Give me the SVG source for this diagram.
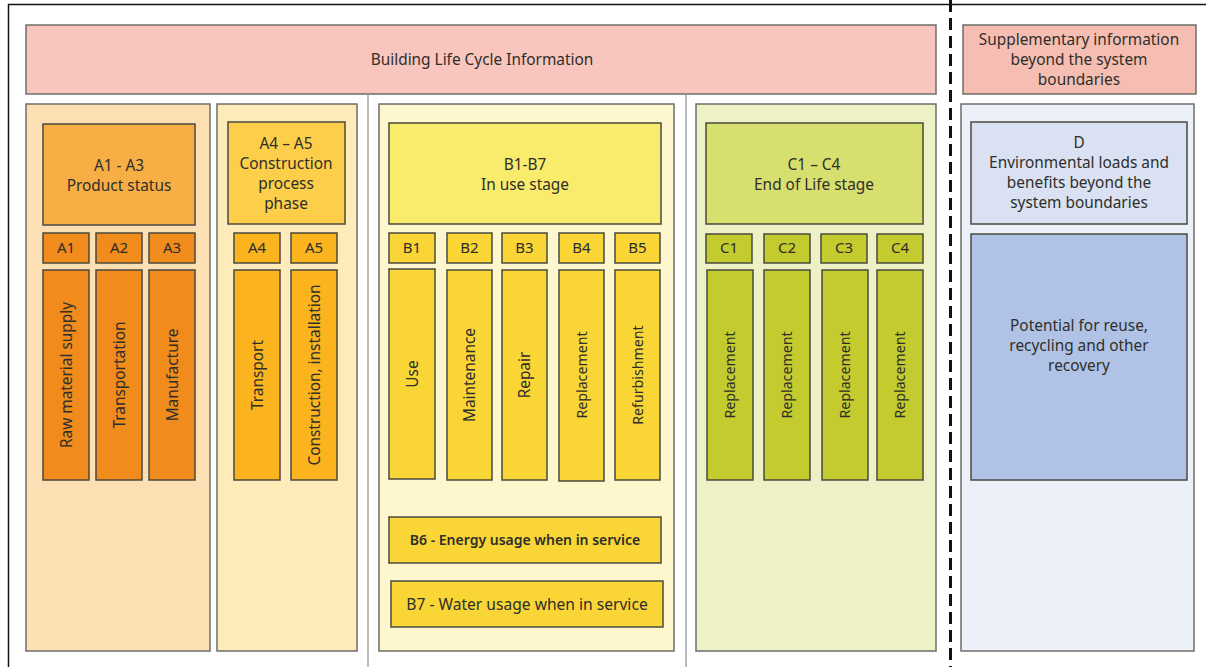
<svg xmlns="http://www.w3.org/2000/svg" width="1206" height="667" viewBox="0 0 1206 667">
<style>
text{font-family:"Noto Sans","Open Sans","Liberation Sans",sans-serif;font-size:15px;fill:#2e2e2a;text-anchor:middle}
.b{stroke:#4a4a40;stroke-width:1.5}
.p{stroke:#6e6e68;stroke-width:1.5}
.t{font-size:15.4px}
.v{font-size:15.4px}
.r{font-size:14.2px}
</style>
<rect x="0" y="0" width="1206" height="667" fill="#fff"/>
<g id="frame">
<path d="M8.5 667 V4.5 H1206" fill="none" stroke="#111" stroke-width="1.5"/>
<line x1="368" y1="95" x2="368" y2="667" stroke="#bdbdbd" stroke-width="2"/>
<line x1="686" y1="95" x2="686" y2="667" stroke="#bdbdbd" stroke-width="2"/>
<line x1="950.5" y1="0" x2="950.5" y2="667" stroke="#111" stroke-width="3" stroke-dasharray="12,6"/>
</g>
<g id="banner">
<rect class="p" x="26" y="25" width="910" height="69" fill="#F8C6BE"/>
<text class="t" x="482" y="65">Building Life Cycle Information</text>
</g>
<g id="supplementary">
<rect class="p" x="963" y="25" width="233" height="69" fill="#F6BEB2"/>
<text class="t" x="1079" y="45">Supplementary information</text>
<text class="t" x="1079" y="65">beyond the system</text>
<text class="t" x="1079" y="85">boundaries</text>
</g>
<g id="panelA13">
<rect class="p" x="26" y="104" width="184" height="547" fill="#FDDFB4"/>
<rect class="b" x="43" y="124" width="152" height="101" fill="#F7AE45"/>
<text class="t" x="119" y="171">A1 - A3</text>
<text class="t" x="119" y="191">Product status</text>
</g>
<g id="A1">
<rect class="b" x="43" y="233" width="46" height="30" fill="#F18B1C"/>
<text x="66" y="253">A1</text>
<rect class="b" x="43" y="270" width="46" height="210" fill="#F18B1C"/>
<text class="v" transform="translate(71.5,375) rotate(-90)">Raw material supply</text>
</g>
<g id="A2">
<rect class="b" x="96" y="233" width="46" height="30" fill="#F18B1C"/>
<text x="119" y="253">A2</text>
<rect class="b" x="96" y="270" width="46" height="210" fill="#F18B1C"/>
<text class="v" transform="translate(124.5,375) rotate(-90)">Transportation</text>
</g>
<g id="A3">
<rect class="b" x="149" y="233" width="46" height="30" fill="#F18B1C"/>
<text x="172" y="253">A3</text>
<rect class="b" x="149" y="270" width="46" height="210" fill="#F18B1C"/>
<text class="v" transform="translate(177.5,375) rotate(-90)">Manufacture</text>
</g>
<g id="panelA45">
<rect class="p" x="217" y="104" width="140" height="547" fill="#FDEBB9"/>
<rect class="b" x="228" y="122" width="117" height="102" fill="#FCCE4A"/>
<text class="t" x="286" y="149">A4 – A5</text>
<text class="t" x="286" y="169">Construction</text>
<text class="t" x="286" y="189">process</text>
<text class="t" x="286" y="209">phase</text>
</g>
<g id="A4">
<rect class="b" x="234" y="233" width="46" height="30" fill="#FBB41E"/>
<text x="257" y="253">A4</text>
<rect class="b" x="234" y="270" width="46" height="210" fill="#FBB41E"/>
<text class="v" transform="translate(262.5,375) rotate(-90)">Transport</text>
</g>
<g id="A5">
<rect class="b" x="291" y="233" width="46" height="30" fill="#FBB41E"/>
<text x="314" y="253">A5</text>
<rect class="b" x="291" y="270" width="46" height="210" fill="#FBB41E"/>
<text class="v" transform="translate(319.5,375) rotate(-90)">Construction, installation</text>
</g>
<g id="panelB">
<rect class="p" x="379" y="104" width="295" height="547" fill="#FEF6CC"/>
<rect class="b" x="389" y="123" width="272" height="101" fill="#F9EB6C"/>
<text class="t" x="525" y="170">B1-B7</text>
<text class="t" x="525" y="190">In use stage</text>
</g>
<g id="B1">
<rect class="b" x="389" y="233" width="46" height="30" fill="#F9D535"/>
<text x="412" y="253">B1</text>
<rect class="b" x="389" y="269" width="46" height="210" fill="#F9D535"/>
<text class="v" transform="translate(417.5,374) rotate(-90)">Use</text>
</g>
<g id="B2">
<rect class="b" x="447" y="233" width="45" height="30" fill="#F9D535"/>
<text x="469.5" y="253">B2</text>
<rect class="b" x="447" y="270" width="45" height="210" fill="#F9D535"/>
<text class="v" transform="translate(475,375) rotate(-90)">Maintenance</text>
</g>
<g id="B3">
<rect class="b" x="502" y="233" width="45" height="30" fill="#F9D535"/>
<text x="524.5" y="253">B3</text>
<rect class="b" x="502" y="270" width="45" height="210" fill="#F9D535"/>
<text class="v" transform="translate(530,375) rotate(-90)">Repair</text>
</g>
<g id="B4">
<rect class="b" x="559" y="233" width="45" height="30" fill="#F9D535"/>
<text x="581.5" y="253">B4</text>
<rect class="b" x="559" y="270" width="45" height="211" fill="#F9D535"/>
<text class="r" transform="translate(586.5,375) rotate(-90)">Replacement</text>
</g>
<g id="B5">
<rect class="b" x="615" y="233" width="45" height="30" fill="#F9D535"/>
<text x="637.5" y="253">B5</text>
<rect class="b" x="615" y="270" width="45" height="210" fill="#F9D535"/>
<text class="r" transform="translate(642.5,375) rotate(-90)">Refurbishment</text>
</g>
<g id="B6">
<rect class="b" x="389" y="517" width="272" height="46" fill="#F9D535"/>
<text x="525" y="545" style="font-size:14px;font-weight:600">B6 - Energy usage when in service</text>
</g>
<g id="B7">
<rect class="b" x="391" y="581" width="272" height="46" fill="#F9D535"/>
<text x="527" y="610" style="font-size:15.6px">B7 - Water usage when in service</text>
</g>
<g id="panelC">
<rect class="p" x="696" y="104" width="240" height="547" fill="#EDF1C5"/>
<rect class="b" x="706" y="123" width="217" height="101" fill="#D7DF6E"/>
<text class="t" x="814" y="170">C1 – C4</text>
<text class="t" x="814" y="190">End of Life stage</text>
</g>
<g id="C1">
<rect class="b" x="706" y="234" width="46" height="29" fill="#C3CB2E"/>
<text x="729" y="253">C1</text>
<rect class="b" x="707" y="270" width="46" height="210" fill="#C3CB2E"/>
<text class="r" transform="translate(735,375) rotate(-90)">Replacement</text>
</g>
<g id="C2">
<rect class="b" x="764" y="234" width="46" height="29" fill="#C3CB2E"/>
<text x="787" y="253">C2</text>
<rect class="b" x="764" y="270" width="46" height="210" fill="#C3CB2E"/>
<text class="r" transform="translate(792,375) rotate(-90)">Replacement</text>
</g>
<g id="C3">
<rect class="b" x="821" y="234" width="46" height="29" fill="#C3CB2E"/>
<text x="844" y="253">C3</text>
<rect class="b" x="822" y="270" width="46" height="210" fill="#C3CB2E"/>
<text class="r" transform="translate(850,375) rotate(-90)">Replacement</text>
</g>
<g id="C4">
<rect class="b" x="877" y="234" width="46" height="29" fill="#C3CB2E"/>
<text x="900" y="253">C4</text>
<rect class="b" x="877" y="270" width="46" height="210" fill="#C3CB2E"/>
<text class="r" transform="translate(905,375) rotate(-90)">Replacement</text>
</g>
<g id="panelD">
<rect class="p" x="961" y="104" width="233" height="547" fill="#ECF0F9"/>
<rect class="b" x="971" y="122" width="216" height="102" fill="#D9E1F2"/>
<text class="t" x="1079" y="148">D</text>
<text class="t" x="1079" y="168">Environmental loads and</text>
<text class="t" x="1079" y="188">benefits beyond the</text>
<text class="t" x="1079" y="208">system boundaries</text>
</g>
<g id="D-recovery">
<rect class="b" x="971" y="234" width="216" height="246" fill="#B0C3E6"/>
<text class="t" x="1079" y="331">Potential for reuse,</text>
<text class="t" x="1079" y="351">recycling and other</text>
<text class="t" x="1079" y="371">recovery</text>
</g>
</svg>
